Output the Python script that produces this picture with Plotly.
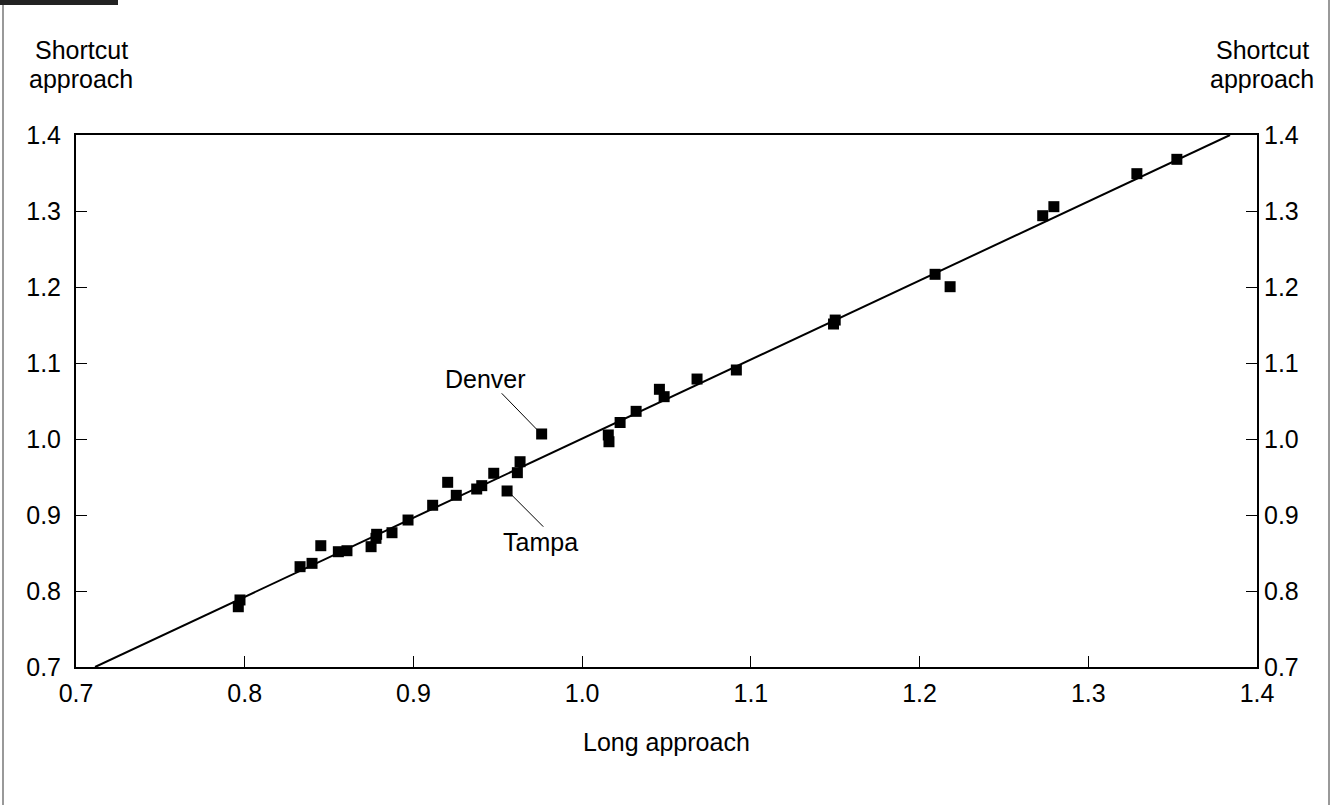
import plotly.graph_objects as go

# ---- data ----
long_approach = [0.7962, 0.7972, 0.8328, 0.8399, 0.8451, 0.8555, 0.8606, 0.8749,
                 0.8782, 0.8778, 0.8873, 0.8968, 0.9114, 0.9203, 0.9254, 0.9375,
                 0.9405, 0.9476, 0.9555, 0.9616, 0.9632, 0.9760, 1.0155, 1.0159,
                 1.0225, 1.0320, 1.0458, 1.0486, 1.0681, 1.0914, 1.1490, 1.1500,
                 1.2092, 1.2181, 1.2730, 1.2796, 1.3288, 1.3525]
shortcut_approach = [0.7793, 0.7882, 0.8320, 0.8364, 0.8596, 0.8517, 0.8530, 0.8583,
                     0.8746, 0.8693, 0.8767, 0.8934, 0.9128, 0.9430, 0.9259, 0.9342,
                     0.9386, 0.9549, 0.9316, 0.9557, 0.9701, 1.0066, 1.0053, 0.9964,
                     1.0217, 1.0364, 1.0654, 1.0557, 1.0789, 1.0908, 1.1513, 1.1565,
                     1.2167, 1.2004, 1.2938, 1.3057, 1.3491, 1.3680]
fit_x = [0.7113, 1.3840]
fit_y = [0.7, 1.4]
tick_vals = [0.7, 0.8, 0.9, 1.0, 1.1, 1.2, 1.3, 1.4]
tick_text = ["0.7", "0.8", "0.9", "1.0", "1.1", "1.2", "1.3", "1.4"]
city_names = ["Denver", "Tampa"]

FONT = "Liberation Sans, Arial, sans-serif"
FS = 25
W, H = 1331, 805
L, R, T, B = 76, 1257, 135, 667  # plot area pixels


def px_to_paper_x(px):
    return (px - L) / (R - L)


def py_to_paper_y(py):
    return (B - py) / (B - T)


fig = go.Figure()
fig.add_trace(go.Scatter(x=fit_x, y=fit_y, mode="lines",
                         line=dict(color="black", width=2), showlegend=False,
                         hoverinfo="skip"))
fig.add_trace(go.Scatter(x=long_approach, y=shortcut_approach, mode="markers",
                         marker=dict(symbol="square", size=11, color="black",
                                     line=dict(width=0)),
                         showlegend=False))
fig.add_trace(go.Scatter(x=[None], y=[None], yaxis="y2", showlegend=False))

axis_common = dict(range=[0.7, 1.4], tickvals=tick_vals, ticktext=tick_text,
                   ticks="inside", ticklen=11, tickwidth=1, tickcolor="black",
                   showgrid=False, zeroline=False, showline=True,
                   linecolor="black", linewidth=2,
                   tickfont=dict(family=FONT, size=FS, color="black"))

fig.update_layout(
    width=W, height=H,
    margin=dict(l=L, r=W - R, t=T, b=H - B),
    paper_bgcolor="white", plot_bgcolor="white",
    font=dict(family=FONT, size=FS, color="black"),
    xaxis=dict(**axis_common, mirror=True, ticklabelstandoff=3),
    yaxis=dict(**axis_common, mirror=True, ticklabelstandoff=8),
    yaxis2=dict(**axis_common, overlaying="y", side="right", ticklabelstandoff=0),
)


def add_text(text, px, py):
    fig.add_annotation(text=text, xref="paper", yref="paper",
                       x=px_to_paper_x(px), y=py_to_paper_y(py),
                       xanchor="center", yanchor="middle", showarrow=False,
                       font=dict(family=FONT, size=FS))


# axis titles
add_text("Shortcut", 81, 50)
add_text("approach", 81, 79)
add_text("Shortcut", 1262, 50)
add_text("approach", 1262, 79)
add_text("Long approach", 666, 742)


def leader(p0, p1):
    fig.add_shape(type="line", xref="paper", yref="paper",
                  x0=px_to_paper_x(p0[0]), y0=py_to_paper_y(p0[1]),
                  x1=px_to_paper_x(p1[0]), y1=py_to_paper_y(p1[1]),
                  line=dict(color="black", width=1))


# city labels with leader lines
add_text(city_names[0], 486, 379)
leader((501.7, 393.3), (536.7, 429.3))
add_text(city_names[1], 540, 542)
leader((511.7, 495), (543.3, 526.7))

# outer frame and header bar
for xpx in (3, 1329):
    fig.add_shape(type="line", xref="paper", yref="paper",
                  x0=px_to_paper_x(xpx), x1=px_to_paper_x(xpx),
                  y0=py_to_paper_y(0), y1=py_to_paper_y(H),
                  line=dict(color="#777777", width=1.5))
fig.add_shape(type="rect", xref="paper", yref="paper",
              x0=px_to_paper_x(0), x1=px_to_paper_x(118),
              y0=py_to_paper_y(0), y1=py_to_paper_y(5),
              line=dict(width=0), fillcolor="#222222")

fig.write_html("out.html")
